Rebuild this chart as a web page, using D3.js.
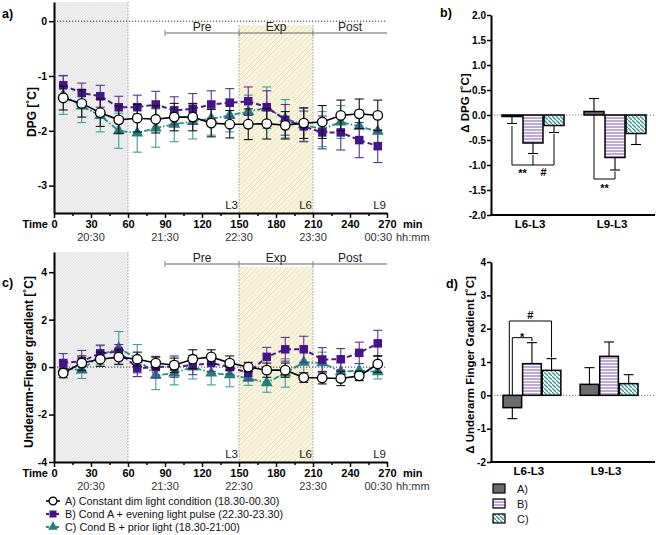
<!DOCTYPE html>
<html><head><meta charset="utf-8">
<script src="https://cdn.jsdelivr.net/npm/d3@7"></script>
<style>
body{margin:0;background:#fff;}
svg{display:block;font-family:"Liberation Sans",Arial,sans-serif;}
</style></head><body>
<svg id="chart" width="656" height="535"></svg>
<script>
// ---------------- DATA ----------------
const times = [7.5,22.5,37.5,52.5,67.5,82.5,97.5,112.5,127.5,142.5,157.5,172.5,187.5,202.5,217.5,232.5,247.5,262.5];
const minuteTicks = [0,30,60,90,120,150,180,210,240,270];
const clockTicks = [30,90,150,210,270];
const clockLabels = ["20:30","21:30","22:30","23:30","00:30"];
const lightMarks = [150,210,270];
const lightLabels = ["L3","L6","L9"];
const phaseNames = ["Pre","Exp","Post"];
const phaseStart = [90,150,210];
const phaseEnd = [150,210,270];
const seriesNames = ["A) Constant dim light condition (18.30-00.30)",
                     "B) Cond A + evening light pulse (22.30-23.30)",
                     "C) Cond B + prior light (18.30-21:00)"];

// panel a: DPG
const dpgA    = [-1.40,-1.50,-1.67,-1.80,-1.77,-1.79,-1.75,-1.75,-1.86,-1.88,-1.88,-1.87,-1.90,-1.86,-1.84,-1.72,-1.69,-1.72];
const dpgAerr = [0.22,0.25,0.25,0.25,0.25,0.25,0.25,0.25,0.25,0.25,0.28,0.28,0.25,0.28,0.30,0.28,0.27,0.28];
const dpgB    = [-1.17,-1.31,-1.37,-1.57,-1.57,-1.52,-1.63,-1.60,-1.52,-1.49,-1.46,-1.57,-1.80,-1.92,-2.03,-2.03,-2.17,-2.28];
const dpgBerr = [0.18,0.18,0.20,0.20,0.22,0.24,0.25,0.28,0.25,0.26,0.26,0.30,0.28,0.28,0.30,0.32,0.32,0.30];
const dpgC    = [-1.35,-1.55,-1.72,-2.00,-2.04,-1.95,-1.88,-1.83,-1.78,-1.72,-1.65,-1.58,-1.78,-1.89,-1.97,-1.84,-1.92,-2.01];
const dpgCerr = [0.35,0.30,0.30,0.32,0.35,0.35,0.32,0.32,0.30,0.30,0.30,0.38,0.35,0.30,0.32,0.30,0.30,0.32];

// panel c: Underarm-Finger gradient
const gradA    = [-0.25,0.17,0.33,0.42,0.33,0.17,0.08,0.33,0.43,0.17,0.00,-0.13,-0.13,-0.44,-0.46,-0.48,-0.37,0.13];
const gradAerr = [0.20,0.30,0.30,0.30,0.30,0.25,0.30,0.40,0.30,0.30,0.20,0.30,0.30,0.20,0.25,0.30,0.20,0.35];
const gradB    = [0.17,0.25,0.58,0.65,-0.05,0.00,0.02,0.08,0.17,0.00,-0.25,0.43,0.75,0.75,0.32,0.33,0.60,1.00];
const gradBerr = [0.40,0.45,0.35,0.30,0.35,0.45,0.45,0.40,0.35,0.30,0.30,0.40,0.50,0.55,0.50,0.45,0.45,0.55];
const gradC    = [-0.05,-0.13,0.50,0.80,0.35,-0.35,-0.25,0.00,-0.25,-0.33,-0.47,-0.66,-0.25,0.20,0.18,-0.20,-0.15,-0.20];
const gradCerr = [0.30,0.35,0.40,0.70,0.60,0.60,0.50,0.50,0.50,0.50,0.30,0.40,0.60,0.50,0.45,0.40,0.30,0.30];

// panels b, d: bar data
const barGroups = ["L6-L3","L9-L3"];
const barConds = ["A","B","C"];
const barLegend = ["A)","B)","C)"];
const dBarA = [-0.03, 0.07],  dBarAerr = [0.14, 0.26];
const dBarB = [-0.56, -0.85], dBarBerr = [0.21, 0.25];
const dBarC = [-0.21, -0.37], dBarCerr = [0.14, 0.22];
const gBarA = [-0.37, 0.33],  gBarAerr = [0.33, 0.50];
const gBarB = [0.95, 1.17],   gBarBerr = [0.63, 0.43];
const gBarC = [0.75, 0.35],   gBarCerr = [0.35, 0.27];
const dpgTicks = [-2,-1.5,-1,-0.5,0,0.5,1,1.5,2];
const gradBarTicks = [-2,-1,0,1,2,3,4];

// ---------------- DRAWING ----------------
const FONT = "Liberation Sans, Arial, sans-serif";
const svg = d3.select("#chart");
const defs = svg.append("defs");

function pattern(id, w, h, bg, build) {
  const p = defs.append("pattern").attr("id", id).attr("patternUnits","userSpaceOnUse")
    .attr("width", w).attr("height", h);
  p.append("rect").attr("width", w).attr("height", h).attr("fill", bg);
  build(p);
}
pattern("greyHatch", 3, 3, "#efefef", p => p.append("path")
  .attr("d","M-1,1 l2,-2 M0,3 l3,-3 M2,4 l2,-2").attr("stroke","#dcdcdc").attr("stroke-width",0.6));
pattern("yellowHatch", 5, 5, "#f8f4de", p => p.append("path")
  .attr("d","M-1,1 l2,-2 M0,5 l5,-5 M4,6 l2,-2").attr("stroke","#e7e0b8").attr("stroke-width",1));
pattern("stripeB", 4, 3, "#bfa8da", p => p.append("rect")
  .attr("y", 2).attr("width", 4).attr("height", 1).attr("fill","#ffffff"));
pattern("hatchC", 4, 4, "#ffffff", p => p.append("path")
  .attr("d","M-1,-1 l2,2 M0,0 l4,4 M3,3 l2,2").attr("stroke","#3a9c98").attr("stroke-width",1.4));

const styles = {
  A: {line:"#000000", dash:null, width:1.6, err:"#111111", marker:"circle", fill:"#ffffff"},
  B: {line:"#4b1a8a", dash:"5,3", width:2, err:"#5e2f96", marker:"square", fill:"#45138a"},
  C: {line:"#2b8c88", dash:"6,2,1.5,2", width:1.8, err:"#3c9d99", marker:"triangle", fill:"#22807c"}
};
const barFills = {A:"#6b6b6b", B:"url(#stripeB)", C:"url(#hatchC)"};

const xT = d3.scaleLinear().domain([0,270]).range([54,387]);

function drawMarker(sel, kind, st, size) {
  if (kind === "circle") {
    sel.append("circle").attr("r", size*0.56).attr("fill", st.fill)
      .attr("stroke","#000").attr("stroke-width",1.3);
  } else if (kind === "square") {
    sel.append("rect").attr("x",-size/2).attr("y",-size/2).attr("width",size).attr("height",size)
      .attr("fill", st.fill);
  } else {
    sel.append("path").attr("d", d3.symbol(d3.symbolTriangle, size*size*0.85)()).attr("fill", st.fill);
  }
}

function drawSeries(g, y, vals, errs, st) {
  const pts = times.map((t,i)=>({t, v:vals[i], e:errs[i]}));
  const eg = g.append("g").attr("stroke", st.err).attr("stroke-width",1.1);
  pts.forEach(p => {
    const x0 = xT(p.t), yt = y(p.v + p.e), yb = y(p.v - p.e);
    eg.append("line").attr("x1",x0).attr("x2",x0).attr("y1",yt).attr("y2",yb);
    eg.append("line").attr("x1",x0-4.5).attr("x2",x0+4.5).attr("y1",yt).attr("y2",yt);
    eg.append("line").attr("x1",x0-4.5).attr("x2",x0+4.5).attr("y1",yb).attr("y2",yb);
  });
  g.append("path").datum(pts)
    .attr("d", d3.line().x(d=>xT(d.t)).y(d=>y(d.v)))
    .attr("fill","none").attr("stroke",st.line).attr("stroke-width",st.width)
    .attr("stroke-dasharray",st.dash);
  pts.forEach(p => {
    const m = g.append("g").attr("transform",`translate(${xT(p.t)},${y(p.v)})`);
    drawMarker(m, st.marker, st, 8.5);
  });
}

function styleAxis(ax, size, bold) {
  ax.attr("font-family", FONT).attr("font-size", size).attr("font-weight", bold ? "bold" : "normal");
  ax.select(".domain").attr("stroke","#000").attr("stroke-width",2);
  ax.selectAll(".tick line").attr("stroke","#000").attr("stroke-width",1.5);
  ax.selectAll(".tick text").attr("fill","#000");
}

function drawTimePanel(o) {
  const y = d3.scaleLinear().domain(o.yDomain).range([o.bottom, o.top]);
  const g = svg.append("g");
  g.append("rect").attr("x",xT(0)).attr("y",o.top).attr("width",xT(60)-xT(0))
    .attr("height",o.bottom-o.top).attr("fill","url(#greyHatch)");
  g.append("rect").attr("x",xT(150)).attr("y",o.expTop).attr("width",xT(210)-xT(150))
    .attr("height",o.bottom-o.expTop).attr("fill","url(#yellowHatch)");
  [60,150,210].forEach(t => g.append("line").attr("x1",xT(t)).attr("x2",xT(t))
    .attr("y1", t===60 ? o.top : o.expTop).attr("y2",o.bottom)
    .attr("stroke","#9a9a9a").attr("stroke-width",0.9).attr("stroke-dasharray","1.5,1.5"));
  g.append("line").attr("x1",xT(0)).attr("x2",xT(270)).attr("y1",y(0)).attr("y2",y(0))
    .attr("stroke","#333").attr("stroke-width",1).attr("stroke-dasharray","1.2,1.8");
  // phase brackets
  phaseNames.forEach((n,i) => {
    g.append("line").attr("x1",xT(phaseStart[i])).attr("x2",xT(phaseEnd[i]))
      .attr("y1",o.phaseY).attr("y2",o.phaseY).attr("stroke","#666").attr("stroke-width",1);
    g.append("text").attr("x",(xT(phaseStart[i])+xT(phaseEnd[i]))/2).attr("y",o.phaseY-2)
      .attr("text-anchor","middle").attr("font-size",12).attr("fill","#222").text(n);
    g.append("line").attr("x1",xT(phaseStart[i])).attr("x2",xT(phaseStart[i]))
      .attr("y1",o.phaseY-3).attr("y2",o.phaseY+3).attr("stroke","#888").attr("stroke-width",1);
  });
  lightMarks.forEach((t,i) => g.append("text").attr("x",xT(t)-1).attr("y",o.bottom-4)
    .attr("text-anchor","end").attr("font-size",11.5).attr("fill","#222").text(lightLabels[i]));
  // series: C, B, A
  drawSeries(g, y, o.C, o.Ce, styles.C);
  drawSeries(g, y, o.B, o.Be, styles.B);
  drawSeries(g, y, o.A, o.Ae, styles.A);
  // axes
  const gy = svg.append("g").attr("transform",`translate(${xT(0)},0)`)
    .call(d3.axisLeft(y).tickValues(o.yTicks).tickSize(5).tickSizeOuter(0).tickPadding(2).tickFormat(d=>String(d)));
  styleAxis(gy, 10.5, true);
  const gm = svg.append("g").attr("transform",`translate(0,${o.bottom})`)
    .call(d3.axisBottom(xT).tickValues(d3.range(15,270,30)).tickSize(3).tickFormat(""));
  gm.select(".domain").remove();
  gm.selectAll(".tick line").attr("stroke","#000").attr("stroke-width",1.5);
  const gx = svg.append("g").attr("transform",`translate(0,${o.bottom})`)
    .call(d3.axisBottom(xT).tickValues(minuteTicks).tickSize(5).tickSizeOuter(0));
  styleAxis(gx, 11, true);
  gx.selectAll(".tick text").attr("y",15).attr("dy",null);
  clockTicks.forEach((t,i) => svg.append("text")
    .attr("x", i === clockTicks.length-1 ? xT(t)+5 : xT(t)).attr("y", o.bottom+28)
    .attr("text-anchor", i === clockTicks.length-1 ? "end" : "middle")
    .attr("font-size",11).attr("fill","#333").text(clockLabels[i]));
  svg.append("text").attr("x",48).attr("y",o.bottom+15).attr("text-anchor","end")
    .attr("font-size",11).attr("font-weight","bold").text("Time");
  svg.append("text").attr("x",403).attr("y",o.bottom+15)
    .attr("font-size",11).attr("font-weight","bold").text("min");
  svg.append("text").attr("x",396).attr("y",o.bottom+28)
    .attr("font-size",11).attr("fill","#333").text("hh:mm");
  svg.append("text").attr("transform",`translate(${o.ylabX},${o.ylabY}) rotate(-90)`)
    .attr("text-anchor","middle").attr("font-size",12).attr("font-weight","bold").text(o.ylab);
  svg.append("text").attr("x",2).attr("y",o.tagY).attr("font-size",12.5).attr("font-weight","bold").text(o.tag);
}

function drawBarPanel(o) {
  const y = d3.scaleLinear().domain(o.yDomain).range([o.bottom, o.top]);
  const xg = d3.scaleBand().domain(barGroups).range(o.xRange).paddingInner(o.pad);
  const xs = d3.scaleBand().domain(barConds).range([0, xg.bandwidth()]).paddingInner(0.05);
  const g = svg.append("g");
  g.append("line").attr("x1",491).attr("x2",655).attr("y1",y(0)).attr("y2",y(0))
    .attr("stroke","#777").attr("stroke-width",1).attr("stroke-dasharray","1.2,1.8");
  barConds.forEach((c,k) => {
    barGroups.forEach((grp,i) => {
      const v = o.vals[k][i], e = o.errs[k][i];
      const x0 = xg(grp) + xs(c), w = xs.bandwidth(), cx = x0 + w/2;
      const s = v >= 0 ? 1 : -1;
      g.append("line").attr("x1",cx).attr("x2",cx).attr("y1",y(v)).attr("y2",y(v + s*e))
        .attr("stroke","#000").attr("stroke-width",1.1);
      g.append("line").attr("x1",cx-5).attr("x2",cx+5).attr("y1",y(v + s*e)).attr("y2",y(v + s*e))
        .attr("stroke","#000").attr("stroke-width",1.1);
      g.append("rect").attr("x",x0).attr("width",w)
        .attr("y", Math.min(y(0), y(v))).attr("height", Math.max(0.5, Math.abs(y(v)-y(0))))
        .attr("fill", barFills[c]).attr("stroke","#000").attr("stroke-width",1.5);
    });
  });
  // significance brackets
  o.sig.forEach(s => {
    const xa = xg(s.g) + xs(s.a) + xs.bandwidth()/2 + (s.dxA||0);
    const xb = xg(s.g) + xs(s.b) + xs.bandwidth()/2;
    g.append("path").attr("d",`M${xa},${y(s.ya)}V${y(s.level)}H${xb}V${y(s.yb)}`)
      .attr("fill","none").attr("stroke","#000").attr("stroke-width",1);
    g.append("text").attr("x",(xa+xb)/2).attr("y",y(s.level)+s.dy).attr("text-anchor","middle")
      .attr("font-size",11).attr("font-weight","bold").text(s.label);
  });
  const gy = svg.append("g").attr("transform",`translate(491,0)`)
    .call(d3.axisLeft(y).tickValues(o.yTicks).tickSize(4).tickSizeOuter(0).tickPadding(1).tickFormat(o.fmt));
  styleAxis(gy, 10, true);
  svg.append("line").attr("x1",490).attr("x2",655).attr("y1",o.bottom).attr("y2",o.bottom)
    .attr("stroke","#000").attr("stroke-width",2);
  barGroups.forEach(grp => svg.append("text").attr("x",xg(grp)+xg.bandwidth()/2-3).attr("y",o.bottom+13)
    .attr("text-anchor","middle").attr("font-size",11.5).attr("font-weight","bold").text(grp));
  svg.append("text").attr("transform",`translate(${o.ylabX},${o.ylabY}) rotate(-90)`)
    .attr("text-anchor","middle").attr("font-size",11.5).attr("font-weight","bold").text(o.ylab);
  svg.append("text").attr("x",o.tagX).attr("y",o.tagY).attr("font-size",12.5).attr("font-weight","bold").text(o.tag);
}

drawTimePanel({yDomain:[-3.5,0.35], top:2, bottom:213, expTop:25, phaseY:33,
  yTicks:[-3,-2,-1,0], A:dpgA, Ae:dpgAerr, B:dpgB, Be:dpgBerr, C:dpgC, Ce:dpgCerr,
  ylab:"DPG [˚C]", ylabX:36, ylabY:112, tag:"a)", tagY:18});
drawTimePanel({yDomain:[-4,4.85], top:252, bottom:462, expTop:267, phaseY:264,
  yTicks:[-4,-2,0,2,4], A:gradA, Ae:gradAerr, B:gradB, Be:gradBerr, C:gradC, Ce:gradCerr,
  ylab:"Underarm-Finger gradient [˚C]", ylabX:33, ylabY:362, tag:"c)", tagY:287});

drawBarPanel({yDomain:[-2,2], top:15, bottom:215, xRange:[502,646], pad:0.244,
  yTicks:dpgTicks, fmt:d=>d.toFixed(1),
  vals:[dBarA,dBarB,dBarC], errs:[dBarAerr,dBarBerr,dBarCerr],
  sig:[{g:"L6-L3",a:"A",b:"B",ya:-0.22,yb:-0.8,level:-1.0,label:"**",dy:12},
       {g:"L6-L3",a:"B",b:"C",ya:-1.0,yb:-0.38,level:-1.0,label:"#",dy:11},
       {g:"L9-L3",a:"A",b:"B",ya:0,yb:-1.13,level:-1.28,label:"**",dy:13}],
  ylab:"Δ DPG [˚C]", ylabX:469, ylabY:103, tag:"b)", tagX:440, tagY:17});
drawBarPanel({yDomain:[-2,4], top:262, bottom:462, xRange:[503,638], pad:0.25,
  yTicks:gradBarTicks, fmt:d=>String(d),
  vals:[gBarA,gBarB,gBarC], errs:[gBarAerr,gBarBerr,gBarCerr],
  sig:[{g:"L6-L3",a:"A",b:"B",ya:0,yb:1.62,level:1.73,label:"*",dy:3},
       {g:"L6-L3",a:"A",b:"C",ya:0,yb:1.14,level:2.23,label:"#",dy:-2,dxA:-3}],
  ylab:"Δ Underarm Finger Gradient [˚C]", ylabX:474, ylabY:365, tag:"d)", tagX:446, tagY:288});

// line legend (panel c)
["A","B","C"].forEach((k,i) => {
  const yy = 501 + i*13;
  const st = styles[k];
  svg.append("line").attr("x1",46).attr("x2",60).attr("y1",yy).attr("y2",yy)
    .attr("stroke",st.line).attr("stroke-width",st.width).attr("stroke-dasharray", k==="A"?null:"3,2");
  const m = svg.append("g").attr("transform",`translate(53,${yy})`);
  drawMarker(m, st.marker, st, 7);
  svg.append("text").attr("x",65).attr("y",yy+4).attr("font-size",10.8).attr("fill","#111").text(seriesNames[i]);
});
// bar legend (panel d)
barConds.forEach((c,i) => {
  const yy = 484 + i*15;
  svg.append("rect").attr("x",493).attr("y",yy).attr("width",12).attr("height",9)
    .attr("fill",barFills[c]).attr("stroke","#000").attr("stroke-width",1.2);
  svg.append("text").attr("x",517).attr("y",yy+8.5).attr("font-size",11).attr("fill","#111").text(barLegend[i]);
});
</script>
</body></html>
